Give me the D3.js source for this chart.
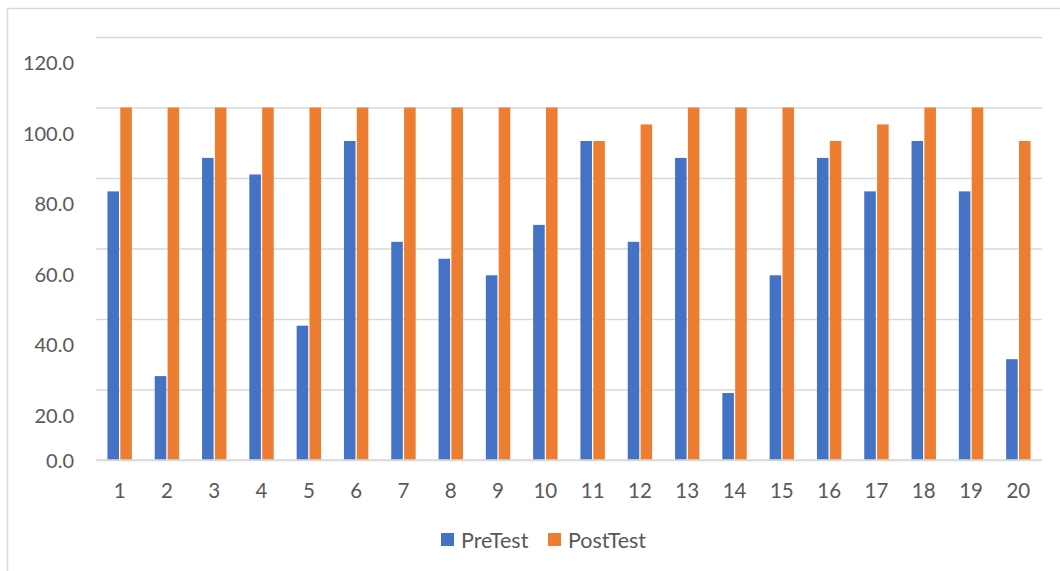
<!DOCTYPE html>
<html>
<head>
<meta charset="utf-8">
<script src="https://cdn.jsdelivr.net/npm/d3@7"></script>
<style>
  html, body { margin: 0; padding: 0; background: #fff; }
  svg { display: block; }
  text { font-family: Lato, "Open Sans", sans-serif; fill: #595959; }
</style>
</head>
<body>
<svg id="chart" width="1060" height="571"></svg>
<script>
// Student scores (% correct) before and after
const students = ["1","2","3","4","5","6","7","8","9","10","11","12","13","14","15","16","17","18","19","20"];
const preTest  = [76.2, 23.8, 85.7, 81.0, 38.1, 90.5, 61.9, 57.1, 52.4, 66.7, 90.5, 61.9, 85.7, 19.0, 52.4, 85.7, 76.2, 90.5, 76.2, 28.6];
const postTest = [100, 100, 100, 100, 100, 100, 100, 100, 100, 100, 90.5, 95.2, 100, 100, 100, 90.5, 95.2, 100, 100, 90.5];
const seriesNames = ["PreTest", "PostTest"];
const seriesColors = ["#4472C4", "#ED7D31"];
const yTicks = [0, 20, 40, 60, 80, 100, 120];

const svg = d3.select("#chart");

// outer frame
svg.append("rect")
  .attr("x", 7.5).attr("y", 8.5)
  .attr("width", 1080).attr("height", 600)
  .attr("fill", "none").attr("stroke", "#d9d9d9").attr("stroke-width", 1.5);

const plot = { left: 96, right: 1042, top: 37, bottom: 460 };

const x = d3.scaleBand().domain(students)
  .range([plot.left, plot.right])
  .paddingInner(0.484).paddingOuter(0.242);
const xs = d3.scaleBand().domain(seriesNames)
  .range([0, x.bandwidth()]).paddingInner(0.1);
const y = d3.scaleLinear().domain([0, 120]).range([plot.bottom, plot.top]);

// horizontal gridlines
svg.append("g")
  .attr("transform", `translate(${plot.left},0)`)
  .call(d3.axisLeft(y).tickValues(yTicks).tickSize(-(plot.right - plot.left)).tickFormat(""))
  .call(g => g.select(".domain").remove())
  .call(g => g.selectAll(".tick line").attr("stroke", "#d9d9d9").attr("stroke-width", 1.5));

// y labels
svg.append("g")
  .selectAll("text")
  .data(yTicks)
  .join("text")
  .attr("x", 74)
  .attr("y", d => y(d) + (d > 0 ? 26 : 1))
  .attr("dy", "0.36em")
  .attr("text-anchor", "end")
  .attr("font-size", 20)
  .text(d => d.toFixed(1));

// bars
const rows = students.map((s, i) => ({ s, vals: [preTest[i], postTest[i]] }));
const groups = svg.append("g").selectAll("g")
  .data(rows).join("g")
  .attr("transform", d => `translate(${x(d.s)},0)`);
groups.selectAll("rect")
  .data(d => d.vals.map((v, k) => ({ v, k })))
  .join("rect")
  .attr("x", d => xs(seriesNames[d.k]))
  .attr("width", xs.bandwidth())
  .attr("y", d => y(d.v))
  .attr("height", d => y(0) - y(d.v))
  .attr("fill", d => seriesColors[d.k]);

// x labels
svg.append("g")
  .attr("transform", `translate(0,${plot.bottom})`)
  .call(d3.axisBottom(x).tickSize(0).tickPadding(0))
  .call(g => g.select(".domain").remove())
  .call(g => g.selectAll("text")
    .attr("y", 31).attr("dy", "0.36em")
    .attr("font-size", 20.5).attr("fill", "#595959")
    .style("font-family", "Lato, 'Open Sans', sans-serif"));

// baseline
svg.append("line")
  .attr("x1", plot.left).attr("x2", plot.right)
  .attr("y1", y(0)).attr("y2", y(0))
  .attr("stroke", "#d9d9d9").attr("stroke-width", 1.5);

// legend
const legend = svg.append("g");
const legendX = [441, 548];
seriesNames.forEach((name, k) => {
  legend.append("rect")
    .attr("x", legendX[k]).attr("y", 533)
    .attr("width", 13).attr("height", 13)
    .attr("fill", seriesColors[k]);
  legend.append("text")
    .attr("x", legendX[k] + 20).attr("y", 540)
    .attr("dy", "0.36em")
    .attr("font-size", 21.5)
    .text(name);
});
</script>
</body>
</html>
